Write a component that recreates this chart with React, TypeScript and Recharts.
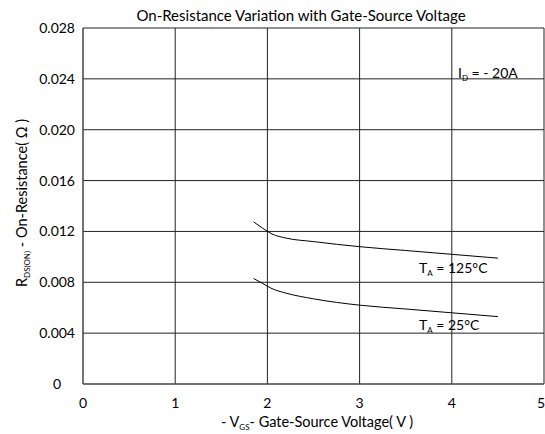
import React from "react";
import { LineChart, Line, XAxis, YAxis, CartesianGrid } from "recharts";

// -VGS (V) vs RDS(ON) (ohm)
const vgs = [1.85, 1.95, 2.05, 2.2, 2.5, 3.0, 3.5, 4.0, 4.5];
const r125 = [0.01275, 0.01225, 0.0118, 0.01148, 0.0112, 0.0108, 0.0105, 0.0102, 0.0099];
const r25 = [0.0083, 0.0079, 0.0075, 0.00715, 0.0067, 0.0062, 0.0059, 0.0056, 0.0053];

const xTicks = [0, 1, 2, 3, 4, 5];
const yTicks = [0, 0.004, 0.008, 0.012, 0.016, 0.02, 0.024, 0.028];

const data = vgs.map((v, i) => ({ v, hot: r125[i], room: r25[i] }));

const FONT = "Lato, 'Open Sans', sans-serif";
const W = 545;
const H = 434;

function YTick(props: any) {
  const { x, y, payload } = props;
  const val = payload.value as number;
  const label = val === 0 ? "0" : val.toFixed(3);
  return (
    <text
      x={val === 0 ? x - 14 : x}
      y={y}
      dy={5}
      textAnchor="end"
      fontSize={14}
      fontFamily={FONT}
      fill="#000"
    >
      {label}
    </text>
  );
}

function XTick(props: any) {
  const { x, y, payload } = props;
  return (
    <text x={x} y={y} dy={16} textAnchor="middle" fontSize={14} fontFamily={FONT} fill="#000">
      {payload.value}
    </text>
  );
}

export default function App() {
  return (
    <div style={{ position: "fixed", left: 0, top: 0, width: W, height: H, background: "#fff" }}>
      <LineChart width={W} height={H} data={data} margin={{ top: 28, right: 1, bottom: 20, left: 8 }}>
        <CartesianGrid stroke="#222" strokeWidth={1} />
        <XAxis
          type="number"
          dataKey="v"
          domain={[0, 5]}
          ticks={xTicks}
          height={30}
          tickLine={false}
          axisLine={{ stroke: "#555" }}
          tick={<XTick />}
        />
        <YAxis
          type="number"
          domain={[0, 0.028]}
          ticks={yTicks}
          width={75}
          tickLine={false}
          axisLine={{ stroke: "#555" }}
          tick={<YTick />}
        />
        <Line type="monotone" dataKey="hot" stroke="#000" strokeWidth={1} dot={false} isAnimationActive={false} />
        <Line type="monotone" dataKey="room" stroke="#000" strokeWidth={1} dot={false} isAnimationActive={false} />
      </LineChart>
      <svg
        width={W}
        height={H}
        style={{ position: "absolute", left: 0, top: 0, pointerEvents: "none" }}
        fontFamily={FONT}
      >
        <text x={301} y={21} textAnchor="middle" fontSize={15} fill="#000">
          On-Resistance Variation with Gate-Source Voltage
        </text>
        <text x={458} y={78} fontSize={14} fill="#000">
          I<tspan fontSize={8} dy={3}>D</tspan>
          <tspan dy={-3}> = - 20A</tspan>
        </text>
        <text x={419} y={273} fontSize={14} fill="#000">
          T<tspan fontSize={8} dy={3}>A</tspan>
          <tspan dy={-3}> = 125°C</tspan>
        </text>
        <text x={419} y={330} fontSize={14} fill="#000">
          T<tspan fontSize={8} dy={3}>A</tspan>
          <tspan dy={-3}> = 25°C</tspan>
        </text>
        <text x={317} y={427} textAnchor="middle" fontSize={14.5} fill="#000">
          - V<tspan fontSize={8} dy={3}>GS</tspan>
          <tspan dy={-3}>- Gate-Source Voltage( V )</tspan>
        </text>
        <text x={0} y={0} textAnchor="middle" fontSize={14.5} fill="#000" transform="translate(27 203) rotate(-90)">
          R<tspan fontSize={8} dy={3}>DS(ON)</tspan>
          <tspan dy={-3}> - On-Resistance( Ω )</tspan>
        </text>
      </svg>
    </div>
  );
}
